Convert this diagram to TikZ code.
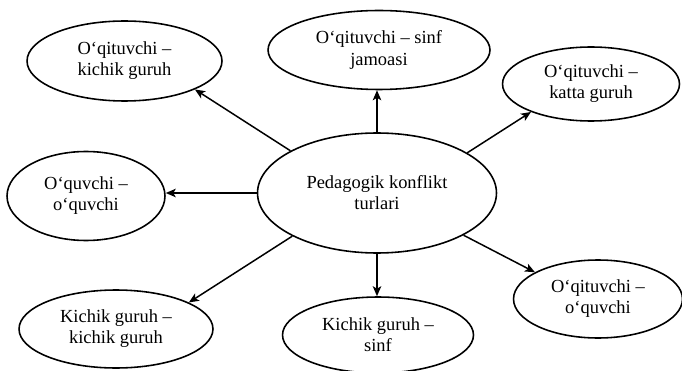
\documentclass[tikz,border=0pt]{standalone}
\usepackage{fontspec}
\setmainfont{Liberation Serif}
\usetikzlibrary{positioning, arrows.meta, shapes.geometric}

\begin{document}
\begin{tikzpicture}[x=0.02cm, y=-0.02cm,
        oval/.style={ellipse, draw=black, line width=0.9pt, inner sep=0pt, align=center, font=\fontsize{10.5}{12}\selectfont},
        arr/.style={-{Stealth[length=2mm, width=1.7mm, inset=0.5mm]}, line width=0.85pt},
    ]
    \useasboundingbox (0,0) rectangle (682,371);

    % Centre
    \node[oval, minimum width=4.78cm, minimum height=2.4cm] (center) at (377,193) {Pedagogik konflikt\\turlari};

    % Top row
    \node[oval, minimum width=3.9cm, minimum height=1.6cm] (tsmall) at (124.5,61) {O‘qituvchi –\\kichik guruh};
    \node[oval, minimum width=4.44cm, minimum height=1.58cm] (tclass) at (379,50) {O‘qituvchi – sinf\\jamoasi};
    \node[oval, minimum width=3.54cm, minimum height=1.48cm] (tbig) at (591,84) {O‘qituvchi –\\katta guruh};

    % Middle
    \node[oval, minimum width=3.16cm, minimum height=1.78cm] (pp) at (86,196) {O‘quvchi –\\o‘quvchi};

    % Bottom row
    \node[oval, minimum width=3.88cm, minimum height=1.56cm] (ssmall) at (116,329) {Kichik guruh –\\kichik guruh};
    \node[oval, minimum width=3.82cm, minimum height=1.52cm] (sclass) at (378,335) {Kichik guruh –\\sinf};
    \node[oval, minimum width=3.38cm, minimum height=1.56cm] (tp) at (598,299) {O‘qituvchi –\\o‘quvchi};

    % Arrows
    \draw[arr] (center.154) -- (tsmall.338);
    \draw[arr] (center.north) -- (center.north |- tclass.south);
    \draw[arr] (center.24) -- (tbig.205);
    \draw[arr] (center.west) -- (center.west -| pp.east);
    \draw[arr] (center.207) -- (ssmall.20);
    \draw[arr] (center.south) -- (center.south |- sclass.north);
    \draw[arr] (center.334) -- (tp.157);
\end{tikzpicture}
\end{document}
